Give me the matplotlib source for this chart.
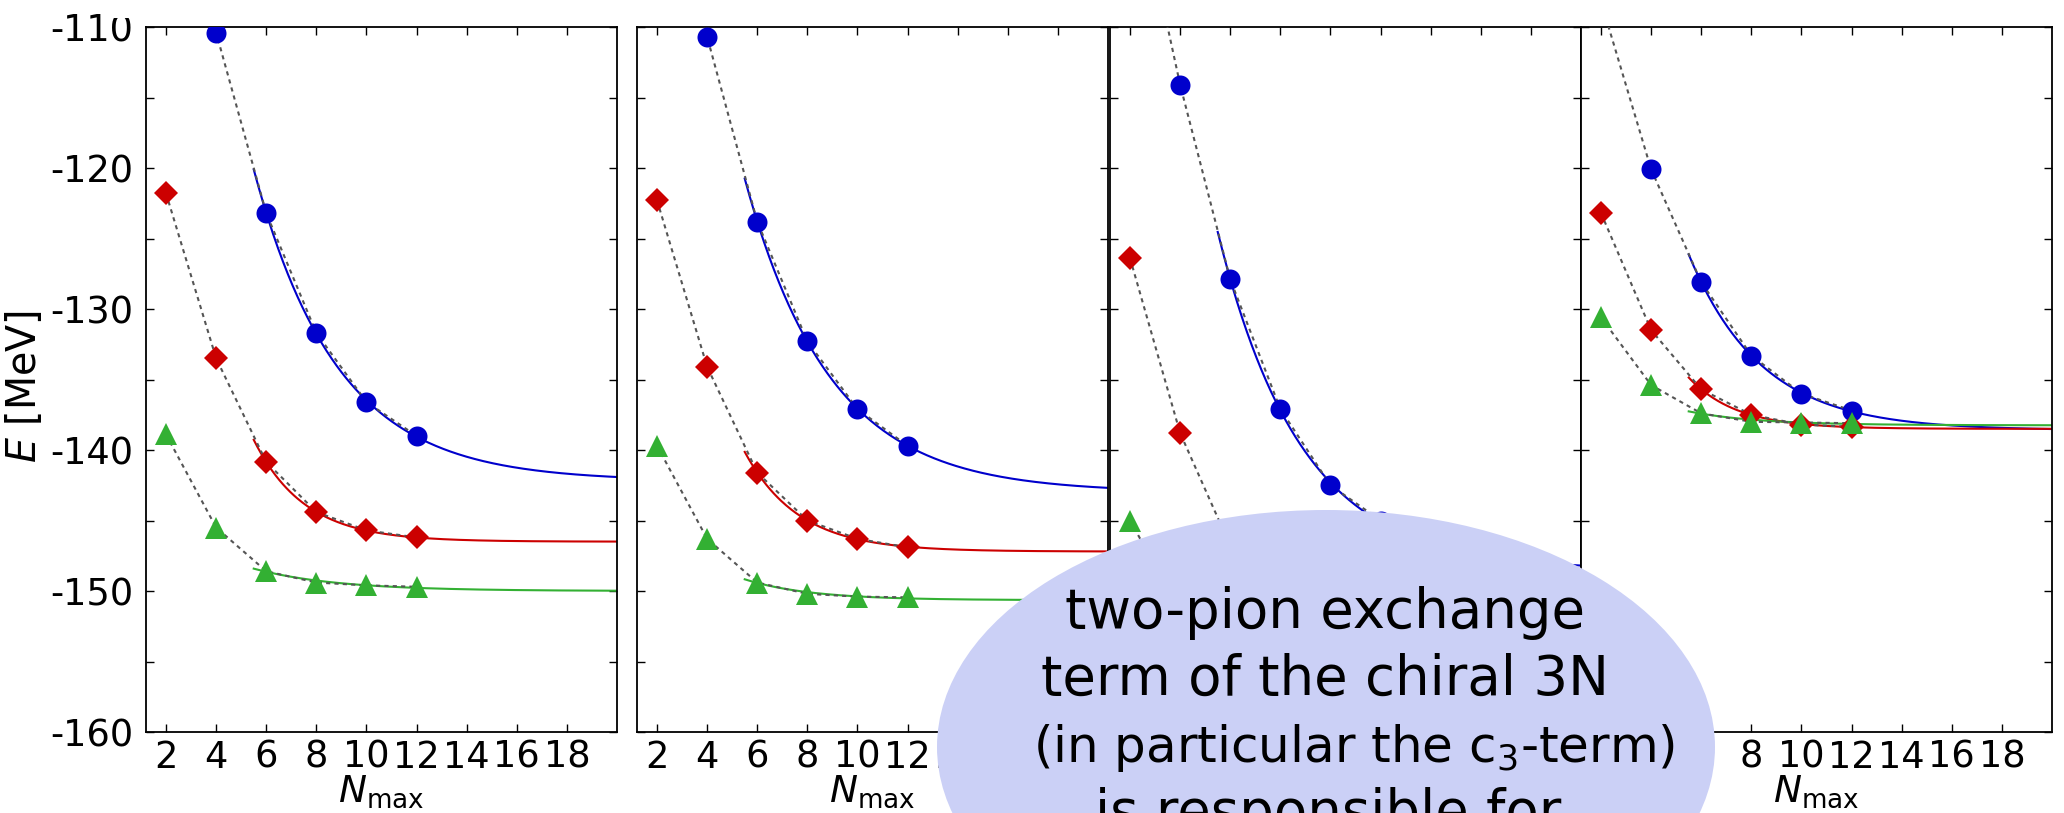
import numpy as np
import matplotlib
matplotlib.use("Agg")
import matplotlib.pyplot as plt
from matplotlib.patches import Ellipse, Rectangle
from matplotlib.ticker import MultipleLocator

plt.rcParams['axes.unicode_minus'] = False

n_max = [2, 4, 6, 8, 10, 12]

# energies [MeV] per panel: circles (blue), diamonds (red), triangles (green)
p1_circle = [-97.0, -110.4, -123.2, -131.7, -136.6, -139.0]
p1_diamond = [-121.8, -133.5, -140.85, -144.4, -145.7, -146.2]
p1_triangle = [-138.9, -145.5, -148.6, -149.4, -149.6, -149.7]
p1_limit = [-142.2, -146.5, -150.0]

p2_circle = [-97.0, -110.7, -123.8, -132.3, -137.1, -139.7]
p2_diamond = [-122.3, -134.1, -141.6, -145.0, -146.3, -146.9]
p2_triangle = [-139.7, -146.3, -149.4, -150.2, -150.4, -150.45]
p2_limit = [-143.0, -147.2, -150.65]

p3_circle = [-97.7, -114.1, -127.9, -137.1, -142.5, -145.0]
p3_diamond = [-126.4, -138.8, -146.8, -150.3, -151.8, -152.4]
p3_triangle = [-145.0, -151.4, -154.0, -154.9, -155.2, -155.3]
p3_limit = [-148.5, -152.8, -155.4]

p4_circle = [-108.2, -120.1, -128.1, -133.3, -136.0, -137.2]
p4_diamond = [-123.2, -131.5, -135.7, -137.5, -138.2, -138.35]
p4_triangle = [-130.6, -135.4, -137.4, -138.0, -138.05, -138.1]
p4_limit = [-138.6, -138.5, -138.25]

panels = [
    (p1_circle, p1_diamond, p1_triangle, p1_limit),
    (p2_circle, p2_diamond, p2_triangle, p2_limit),
    (p3_circle, p3_diamond, p3_triangle, p3_limit),
    (p4_circle, p4_diamond, p4_triangle, p4_limit),
]

bubble_lines = ["two-pion exchange", "term of the chiral 3N",
                "(in particular the c$_3$-term)", "is responsible for"]

colors = ['#0000cc', '#cc0000', '#33b033']
markers = [('o', 14.4), ('D', 12.3), ('^', 16.5)]


def exp_fit(n, e, e_inf):
    # E(N) = E_inf + A exp(-b N), fitted on N >= 6 with the asymptote fixed
    n = np.asarray(n, float)
    e = np.asarray(e, float)
    sel = n >= 6
    d = e[sel] - e_inf
    slope, icpt = np.polyfit(n[sel], np.log(d), 1, w=d)
    nn = np.linspace(5.5, 20, 300)
    return nn, e_inf + np.exp(icpt + slope * nn)


W, H = 2064, 813
fig = plt.figure(figsize=(W / 100, H / 100), dpi=100)

lefts = [146, 637, 1110, 1581]
ax_w = 471
top, bottom = 27, 732

for i, (circ, diam, tri, lim) in enumerate(panels):
    ax = fig.add_axes([lefts[i] / W, 1 - bottom / H, ax_w / W, (bottom - top) / H])
    for j, series in enumerate([circ, diam, tri]):
        nn, fit = exp_fit(n_max, series, lim[j])
        ax.plot(nn, fit, '-', color=colors[j], lw=1.5, zorder=2)
    for j, series in enumerate([circ, diam, tri]):
        ax.plot(n_max, series, color='#555555', lw=1.5, ls=(0, (2, 2)), zorder=3)
    for j, series in enumerate([circ, diam, tri]):
        m, ms = markers[j]
        ax.plot(n_max, series, ls='none', marker=m, ms=ms, mew=0,
                color=colors[j], zorder=4)

    ax.set_xlim(1.2, 20)
    ax.set_ylim(-160, -110)
    ax.set_xticks(range(2, 20, 2))
    ax.yaxis.set_major_locator(MultipleLocator(10))
    ax.yaxis.set_minor_locator(MultipleLocator(5))
    ax.tick_params(which='both', direction='in', top=True, right=True,
                   length=6, width=1.0, labelsize=26.5)
    ax.tick_params(axis='x', pad=5)
    ax.tick_params(axis='y', pad=9)
    for s in ax.spines.values():
        s.set_linewidth(1.3)
    ax.set_xlabel(r'$N_\mathrm{max}$', fontsize=27, labelpad=-2)
    if i == 0:
        ax.set_ylabel(r'$E$ [MeV]', fontsize=28.5)
        ax.yaxis.set_label_coords(-0.215, 0.49)
    else:
        ax.tick_params(axis='y', labelleft=False)

# overlay bubble
fig.add_artist(Ellipse((1326 / W, 1 - 747 / H), 778 / W, 474 / H,
                       transform=fig.transFigure, facecolor='#cbd0f6',
                       edgecolor='none', zorder=10))
line_x = [1325, 1325, 1354, 1328]
line_y = [628, 695, 762, 829]
line_size = [39.3, 39.3, 36.0, 39.3]
for txt, lx, ly, fs in zip(bubble_lines, line_x, line_y, line_size):
    fig.text(lx / W, 1 - ly / H, txt, ha='center', va='baseline',
             fontsize=fs, zorder=11)

# top of the "-110" label is covered in the original
fig.add_artist(Rectangle((114 / W, 1 - 18 / H), 24 / W, 18 / H,
                         transform=fig.transFigure, facecolor='white',
                         edgecolor='none', zorder=20))

fig.savefig('out.png', dpi=100)
